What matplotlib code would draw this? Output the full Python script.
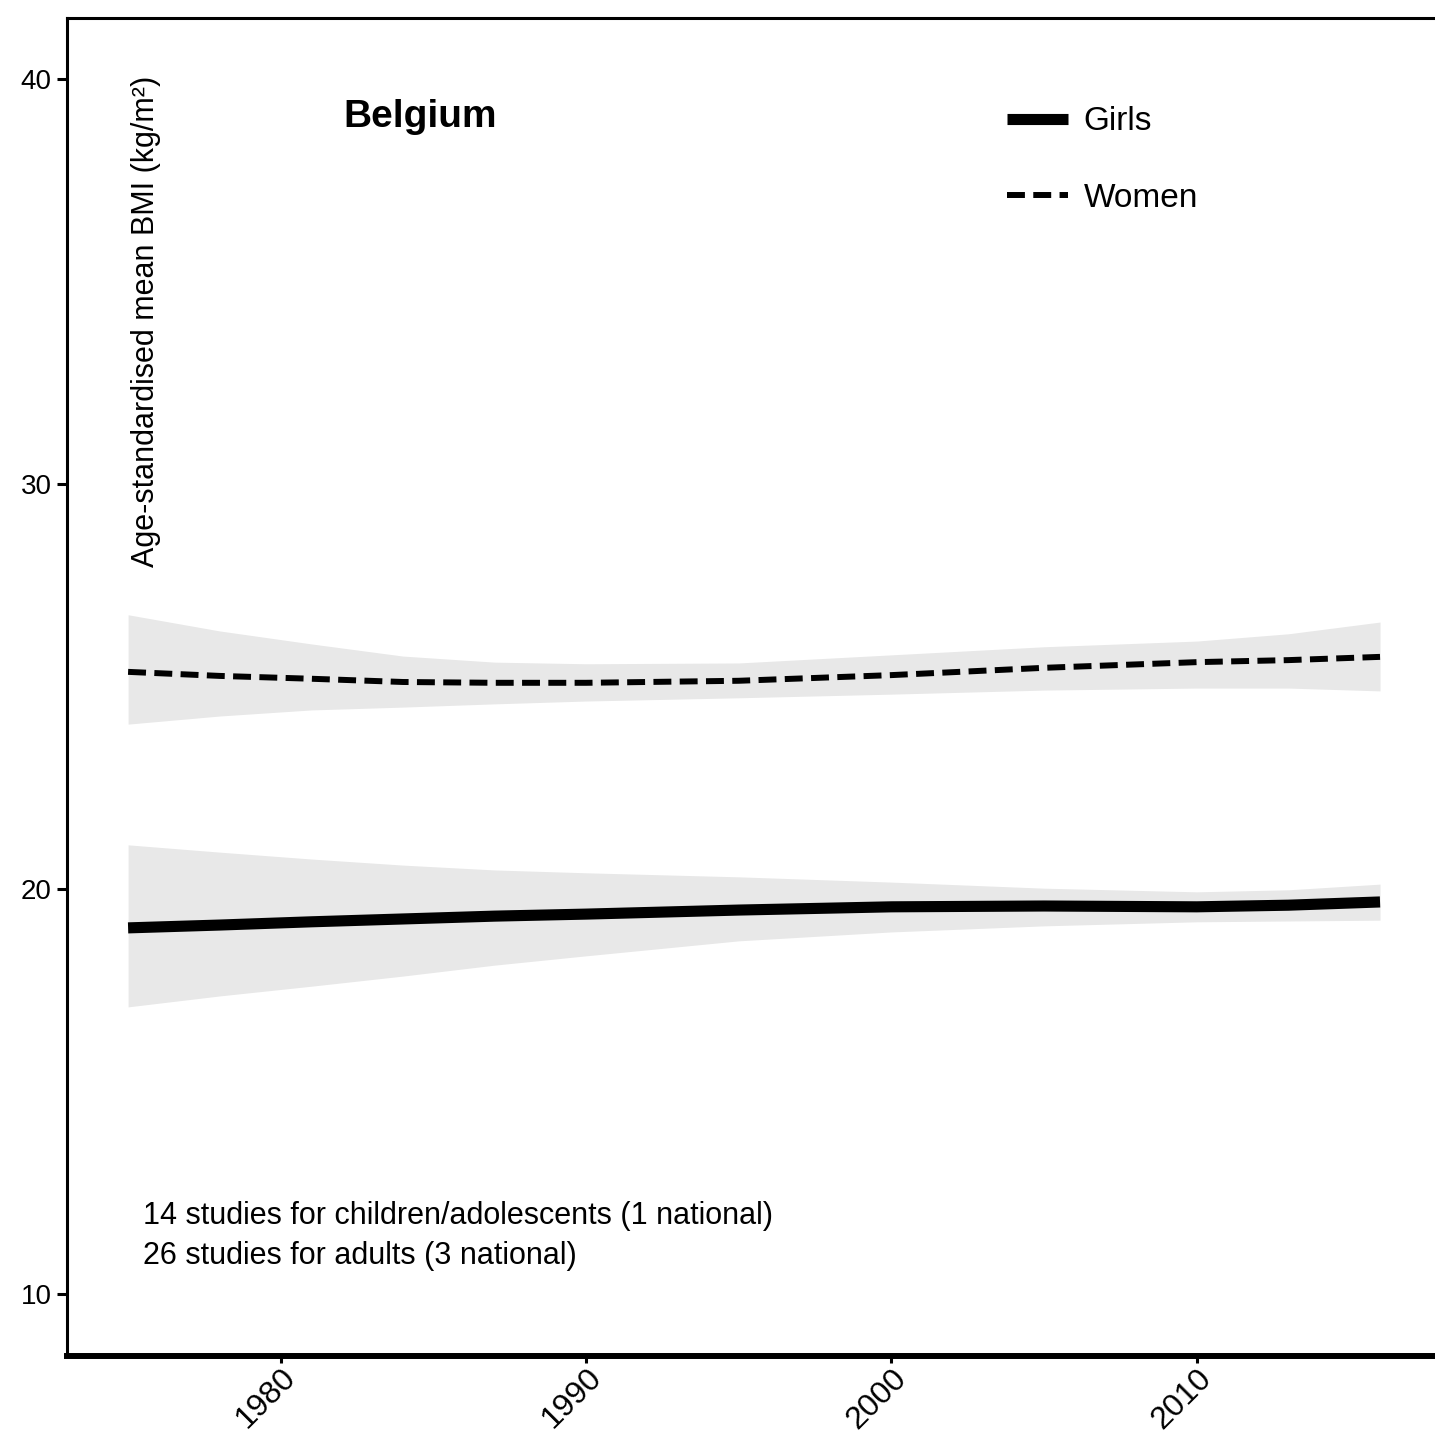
import matplotlib.pyplot as plt

plt.rcParams['font.family'] = ['Liberation Sans', 'DejaVu Sans']

# Valores
years = [1975, 1978, 1981, 1984, 1987, 1990, 1995, 2000, 2005, 2010, 2013, 2016]

girls_mean = [19.04, 19.11, 19.19, 19.26, 19.33, 19.38, 19.48, 19.56, 19.58, 19.56, 19.60, 19.68]
girls_low = [17.09, 17.36, 17.60, 17.85, 18.12, 18.35, 18.72, 18.94, 19.09, 19.19, 19.21, 19.23]
girls_high = [21.09, 20.91, 20.74, 20.59, 20.47, 20.40, 20.30, 20.17, 20.02, 19.93, 19.98, 20.12]

women_mean = [25.36, 25.26, 25.19, 25.11, 25.09, 25.09, 25.14, 25.28, 25.46, 25.60, 25.65, 25.73]
women_low = [24.07, 24.27, 24.42, 24.49, 24.57, 24.64, 24.72, 24.81, 24.91, 24.96, 24.96, 24.89]
women_high = [26.77, 26.37, 26.05, 25.75, 25.60, 25.56, 25.58, 25.78, 25.98, 26.12, 26.30, 26.59]

x_ticks = [1980, 1990, 2000, 2010]
y_ticks = [10, 20, 30, 40]

country = 'Belgium'
y_label = 'Age-standardised mean BMI (kg/m²)'
note = '14 studies for children/adolescents (1 national)\n26 studies for adults (3 national)'

fig = plt.figure(figsize=(14.35, 14.44), dpi=100)
ax = fig.add_axes([0.0467, 0.0609, 0.9533, 0.9266])

# Bandas de incertidumbre
ax.fill_between(years, girls_low, girls_high, color='#e8e8e8', lw=0)
ax.fill_between(years, women_low, women_high, color='#e8e8e8', lw=0)

# Lineas
ax.plot(years, girls_mean, color='black', lw=8, solid_capstyle='butt', label='Girls')
ax.plot(years, women_mean, color='black', lw=4.3, linestyle=(0, (3, 1.4)),
        dash_capstyle='butt', label='Women')

ax.set_xlim(1973.0, 2017.8)
ax.set_ylim(8.47, 41.5)
ax.set_xticks(x_ticks)
ax.set_yticks(y_ticks)
ax.set_xticklabels([str(t) for t in x_ticks], rotation=45, ha='right', va='top',
                   rotation_mode='anchor')
ax.tick_params(axis='both', width=2.2, color='black')
ax.tick_params(axis='x', labelsize=23, pad=0, length=5)
ax.tick_params(axis='y', labelsize=20, pad=4, length=7)

ax.spines['right'].set_visible(False)
ax.spines['left'].set_linewidth(2.2)
ax.spines['top'].set_linewidth(2.2)
ax.spines['bottom'].set_linewidth(4.3)

# Textos dentro del panel
ax.text(0.0575, 0.957, y_label, transform=ax.transAxes, rotation=90,
        ha='center', va='top', fontsize=22)
ax.text(0.2018, 0.926, country, transform=ax.transAxes, ha='left', va='center',
        fontsize=28, fontweight='bold')
ax.text(0.0556, 0.0895, note, transform=ax.transAxes, ha='left', va='center',
        fontsize=22, linespacing=1.42)

ax.legend(loc='upper left', bbox_to_anchor=(0.6874, 0.934), frameon=False,
          fontsize=24, handlelength=1.83, handletextpad=0.45, labelspacing=1.36,
          borderaxespad=0, borderpad=0)

plt.savefig('out.png', dpi=100)
